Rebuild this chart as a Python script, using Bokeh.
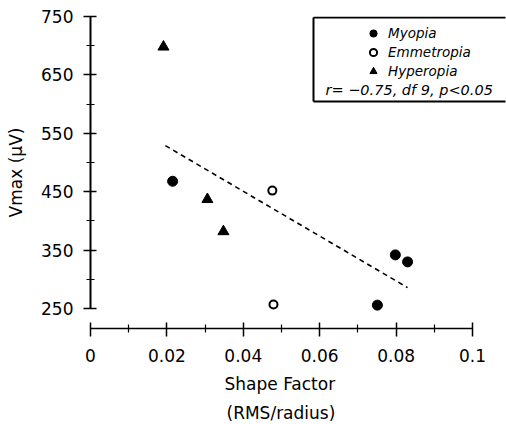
from bokeh.plotting import figure
from bokeh.models import (Range1d, FixedTicker, Legend, LegendItem, Label,
                          Arrow, Title)
from bokeh.embed import file_html
from bokeh.resources import INLINE

# ---- data ----
myopia_x = [0.0215, 0.0751, 0.0798, 0.0830]
myopia_y = [468, 256, 342, 330]
emmetropia_x = [0.0476, 0.0479]
emmetropia_y = [452, 257]
hyperopia_x = [0.0191, 0.0306, 0.0348]
hyperopia_y = [698, 437, 382]
fit_x = [0.0196, 0.0830]
fit_y = [529, 286]

x_ticks = [0, 0.02, 0.04, 0.06, 0.08, 0.1]
x_tick_labels = ["0", "0.02", "0.04", "0.06", "0.08", "0.1"]
x_minor = [0.01, 0.03, 0.05, 0.07, 0.09]
y_ticks = [250, 350, 450, 550, 650, 750]
y_minor = [300, 400, 500, 600, 700]
x_title_lines = ["Shape Factor", "(RMS/radius)"]
y_title = "Vmax (\u03bcV)"
stat_text = "r= \u22120.75, df 9, p<0.05"

FONT = "DejaVu Sans"

p = figure(frame_width=416, frame_height=312, output_backend="svg",
           toolbar_location=None,
           x_range=Range1d(0, 0.1089), y_range=Range1d(216, 750),
           min_border_left=90, min_border_right=0, min_border_top=16,
           min_border_bottom=94)
p.outline_line_color = None
p.xgrid.visible = False
p.ygrid.visible = False
p.background_fill_color = "white"
p.border_fill_color = "white"

# axes
xa = p.xaxis[0]
xa.ticker = FixedTicker(ticks=x_ticks, minor_ticks=x_minor)
xa.major_label_overrides = {t: l for t, l in zip(x_ticks, x_tick_labels)}
xa.bounds = (0, 0.1)
ya = p.yaxis[0]
ya.ticker = FixedTicker(ticks=y_ticks, minor_ticks=y_minor)
ya.bounds = (250, 750)
ya.axis_label = y_title

for ax in (xa, ya):
    ax.axis_line_color = "black"
    ax.major_tick_line_color = "black"
    ax.minor_tick_line_color = "black"
    ax.major_tick_line_width = 1.5
    ax.minor_tick_line_width = 1.2
    ax.major_label_text_font = FONT
    ax.axis_label_text_font = FONT
    ax.major_label_text_color = "black"
    ax.axis_label_text_color = "black"
    ax.axis_label_text_font_style = "normal"
    ax.axis_label_text_font_size = "17px"

xa.axis_line_width = 1.6
ya.axis_line_width = 2
xa.major_tick_out = 8
xa.major_tick_in = 6
xa.minor_tick_out = 4
xa.minor_tick_in = 4
xa.major_label_text_font_size = "17px"
xa.major_label_standoff = 12

ya.major_tick_out = 7
ya.major_tick_in = 6
ya.minor_tick_out = 4
ya.minor_tick_in = 4
ya.major_label_text_font_size = "17px"
ya.major_label_standoff = 10
ya.axis_label_standoff = 12

# x-axis title, centred under the 0..0.1 axis (two lines)
for txt, off, so in zip(x_title_lines, [134, 136], [14, 1]):
    p.add_layout(Title(text=txt, align="left", offset=off,
                       text_font=FONT, text_font_size="17px",
                       text_font_style="normal", text_color="black",
                       standoff=so), "below")

# regression line
p.line(fit_x, fit_y, line_color="black", line_width=1.6, line_dash="5 4")

# points
r_my = p.scatter(myopia_x, myopia_y, marker="circle", size=10,
                 fill_color="black", line_color="black")
r_em = p.scatter(emmetropia_x, emmetropia_y, marker="circle", size=8,
                 fill_color="white", line_color="black", line_width=2)
r_hy = p.scatter(hyperopia_x, hyperopia_y, marker="triangle", size=11,
                 fill_color="black", line_color="black")

legend = Legend(items=[LegendItem(label="Myopia", renderers=[r_my]),
                       LegendItem(label="Emmetropia", renderers=[r_em]),
                       LegendItem(label="Hyperopia", renderers=[r_hy])],
                location=(274, 248), padding=0, margin=0, spacing=1,
                glyph_width=18, glyph_height=18, label_height=18,
                label_standoff=6, border_line_alpha=0,
                background_fill_alpha=0, label_text_color="black",
                label_text_font=FONT, label_text_font_style="italic",
                label_text_font_size="13.5px")
p.add_layout(legend, "center")

p.add_layout(Label(x=235, y=239, x_units="screen", y_units="screen",
                   text=stat_text, text_font=FONT, text_font_style="italic",
                   text_color="black",
                   text_font_size="14.5px", text_baseline="middle"))

# legend frame: top, left and bottom edges (right side runs to the page edge)
box_l, box_r, box_t, box_b = 223, 415, 311, 227
for (xs, ys, xe, ye) in [(box_l, box_t, box_r, box_t),
                         (box_l, box_t, box_l, box_b),
                         (box_l, box_b, box_r, box_b)]:
    p.add_layout(Arrow(x_start=xs, y_start=ys, x_end=xe, y_end=ye,
                       start_units="screen", end_units="screen",
                       start=None, end=None, line_color="black",
                       line_width=2))

open("out.html", "w").write(file_html(p, INLINE))
